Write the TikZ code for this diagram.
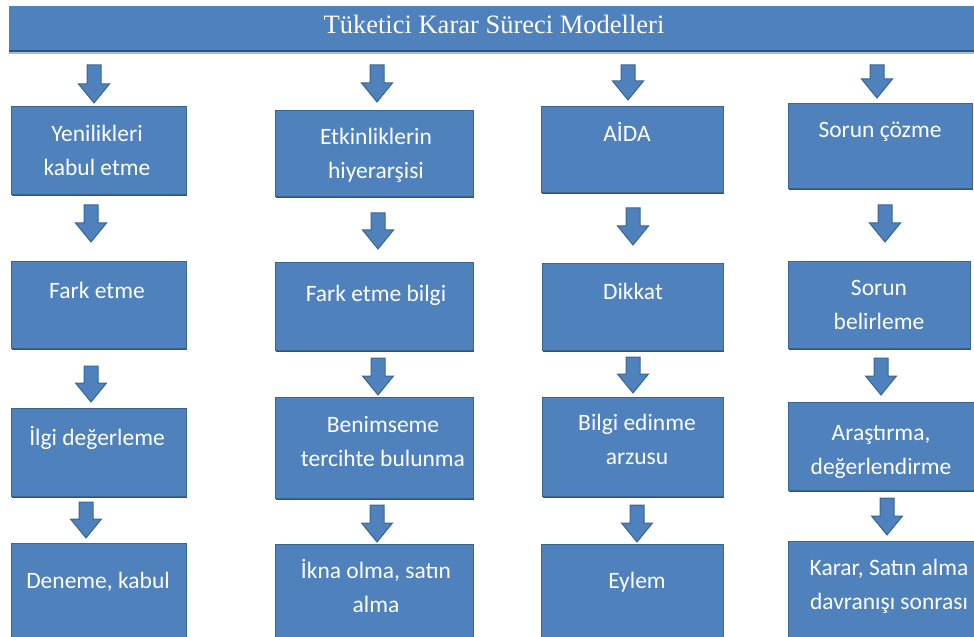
\documentclass[tikz,border=0pt]{standalone}
\usepackage{fontspec}
\setmainfont{Carlito}
\newfontfamily\titlefont{Liberation Serif}
\usetikzlibrary{calc,shadows}

\definecolor{boxblue}{HTML}{4F81BD}
\definecolor{boxedge}{HTML}{3A6592}
\definecolor{boxshade}{HTML}{2F5380}
\definecolor{barshade}{HTML}{A9BBD4}

\newcommand\stagefont{\fontsize{23.5bp}{34bp}\selectfont}

% a process box given by its corners (x1,y1) and (x2,y2)
\newcommand\stagebox[5]{%
  \node[stage, anchor=north west,
        minimum width={(#4-#2)*1bp}, minimum height={(#5-#3)*1bp}] (#1) at (#2,#3) {};}

% the text of a box, placed by the baseline of its first line
\newcommand\stagetext[4]{%
  \node[stagelabel] (#1) at (#2,#3-23.8) {\strut #4};}

% a block arrow pointing down from (x,ytop) to (x,ybot)
\newcommand\stagearrow[4]{%
  \coordinate (#1s) at (#2,#3);
  \coordinate (#1e) at (#2,#4);
  \draw[flowarrow] let \p1=(#1s), \p2=(#1e) in
    (\x1-7bp,\y1) -- (\x1+7bp,\y1) -- (\x1+7bp,\y2+19bp) -- (\x1+15.5bp,\y2+19bp)
    -- (\x2,\y2) -- (\x1-15.5bp,\y2+19bp) -- (\x1-7bp,\y2+19bp) -- cycle;}

\begin{document}
\begin{tikzpicture}[x=1bp,y=-1bp,
  stage/.style={draw=boxedge, fill=boxblue, line width=0.9bp, inner sep=0pt, outer sep=0pt,
    drop shadow={shadow xshift=1.2bp, shadow yshift=-2.2bp, fill=boxshade, opacity=1}},
  stagelabel/.style={align=center, anchor=north, inner sep=0pt, text=white, font=\stagefont},
  flowarrow/.style={draw=boxedge, fill=boxblue, line width=1bp, line join=miter},
  titlebar/.style={fill=boxblue, inner sep=0pt, outer sep=0pt}]
\useasboundingbox (0,0) rectangle (974,637);
\clip (0,0) rectangle (974,637);

% title bar
\node[titlebar, anchor=north west, minimum width=975bp, minimum height=45bp] (title) at (9,6) {};
\draw[barshade, line width=2bp] ($(title.south west)+(0,2)$) -- ($(title.south east)+(0,2)$);
\draw[boxshade, line width=2.2bp] (title.south west) -- (title.south east);
\node[anchor=base, text=white, font=\titlefont\fontsize{26.5bp}{30bp}\selectfont]
  (titletext) at (494,34) {Tüketici Karar Süreci Modelleri};

% boxes
\stagebox{b11}{11}{106}{186}{194}
\stagebox{b12}{11}{261}{186}{348}
\stagebox{b13}{11}{408}{186}{496}
\stagebox{b14}{11}{543}{186}{650}
\stagebox{b21}{275}{110}{473}{196}
\stagebox{b22}{275}{262}{473}{350}
\stagebox{b23}{275}{397}{473}{498}
\stagebox{b24}{275}{544}{473}{650}
\stagebox{b31}{541}{106}{723}{192}
\stagebox{b32}{542}{263}{723}{350}
\stagebox{b33}{542}{397}{723}{496}
\stagebox{b34}{541}{544}{723}{650}
\stagebox{b41}{788}{103}{972}{188}
\stagebox{b42}{788}{261}{970}{348}
\stagebox{b43}{788}{402}{980}{490}
\stagebox{b44}{788}{541}{980}{650}

% texts
\stagetext{t11}{97}{141}{Yenilikleri\\kabul etme}
\stagetext{t12}{97}{298}{Fark etme}
\stagetext{t13}{97}{445}{İlgi değerleme}
\stagetext{t14}{98}{588}{Deneme, kabul}
\stagetext{t21}{376}{144}{Etkinliklerin\\hiyerarşisi}
\stagetext{t22}{376}{301}{Fark etme bilgi}
\stagetext{t23}{383}{432}{Benimseme\\tercihte bulunma}
\stagetext{t24}{376}{578}{İkna olma, satın\\alma}
\stagetext{t31}{627}{141}{AİDA}
\stagetext{t32}{633}{299}{Dikkat}
\stagetext{t33}{637}{430}{Bilgi edinme\\arzusu}
\stagetext{t34}{637}{588}{Eylem}
\stagetext{t41}{880}{137}{Sorun çözme}
\stagetext{t42}{879}{295}{Sorun\\belirleme}
\stagetext{t43}{881}{440}{Araştırma,\\değerlendirme}
\stagetext{t44}{889}{575}{Karar, Satın alma\\davranışı sonrası}

% arrows
\stagearrow{a01}{94}{65}{103}
\stagearrow{a02}{377}{65}{102}
\stagearrow{a03}{628}{65}{100}
\stagearrow{a04}{877}{65}{98}
\stagearrow{a11}{91}{205}{242}
\stagearrow{a12}{378}{213}{249}
\stagearrow{a13}{633}{208}{245}
\stagearrow{a14}{885}{205}{242}
\stagearrow{a21}{91}{366}{402}
\stagearrow{a22}{378}{358}{395}
\stagearrow{a23}{633}{357}{393}
\stagearrow{a24}{881}{358}{395}
\stagearrow{a31}{86}{502}{538}
\stagearrow{a32}{377}{505}{542}
\stagearrow{a33}{637}{505}{542}
\stagearrow{a34}{887}{498}{535}
\end{tikzpicture}
\end{document}
